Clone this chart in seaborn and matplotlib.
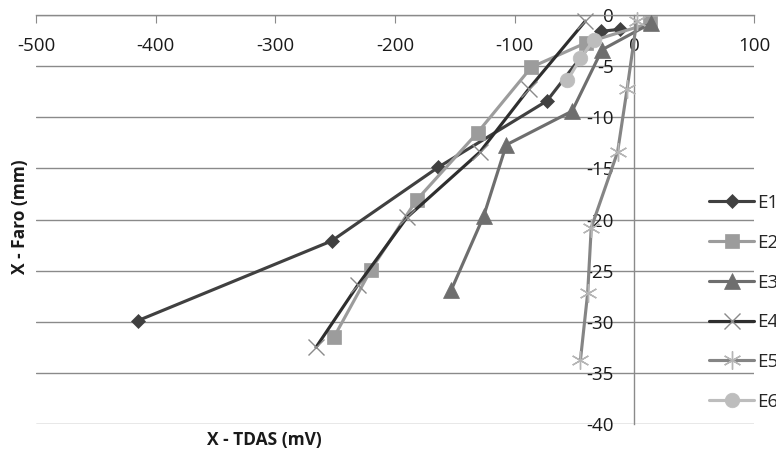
import matplotlib
matplotlib.use("Agg")
import matplotlib.pyplot as plt
import seaborn as sns

# ---- data ----
series_names = ["E1", "E2", "E3", "E4", "E5", "E6"]
E1_x = [-415, -253, -164, -73, -28, -12]
E1_y = [-29.9, -22.1, -14.9, -8.4, -1.6, -1.4]
E2_x = [-251, -220, -182, -131, -86, -40, 13]
E2_y = [-31.5, -24.9, -18.1, -11.5, -5.1, -2.7, -0.8]
E3_x = [-153, -126, -107, -52, -27, 14]
E3_y = [-26.9, -19.7, -12.7, -9.4, -3.4, -0.8]
E4_x = [-266, -231, -190, -129, -88, -41]
E4_y = [-32.5, -26.4, -19.8, -13.4, -7.2, -0.6]
E5_x = [-45, -39, -36, -14, -6, 2]
E5_y = [-33.7, -27.2, -20.8, -13.4, -7.2, -0.6]
E6_x = [-56, -45, -34]
E6_y = [-6.4, -4.25, -2.45]

x_ticks = [-500, -400, -300, -200, -100, 0, 100]
y_ticks = [0, -5, -10, -15, -20, -25, -30, -35, -40]
x_title = "X - TDAS (mV)"
y_title = "X - Faro (mm)"

sns.set_theme(style="white")
plt.rcParams["font.family"] = ["Open Sans", "DejaVu Sans"]

W, H = 776, 455
fig = plt.figure(figsize=(W / 100, H / 100), dpi=100)
ax = fig.add_axes([36 / W, 1 - 424 / H, (754 - 36) / W, (424 - 15) / H])

styles = {
    "E1": dict(color="#404040", marker="D", ms=7.5, mfc="#404040", mec="#404040", mew=0.5),
    "E2": dict(color="#9c9c9c", marker="s", ms=10.5, mfc="#9c9c9c", mec="#9c9c9c", mew=0.5),
    "E3": dict(color="#6e6e6e", marker="^", ms=11, mfc="#6e6e6e", mec="#6e6e6e", mew=0.5),
    "E4": dict(color="#2e2e2e", marker="x", ms=11, mfc="#8a8a8a", mec="#8a8a8a", mew=1.0),
    "E5": dict(color="#858585", marker=(6, 2, 0), ms=13, mfc="#b5b5b5", mec="#b5b5b5", mew=1.0),
    "E6": dict(color="#bdbdbd", marker="o", ms=10.5, mfc="#bdbdbd", mec="#bdbdbd", mew=0.5),
}
data = {
    "E1": (E1_x, E1_y), "E2": (E2_x, E2_y), "E3": (E3_x, E3_y),
    "E4": (E4_x, E4_y), "E5": (E5_x, E5_y), "E6": (E6_x, E6_y),
}

for name in series_names:
    xs, ys = data[name]
    st = styles[name]
    sns.lineplot(x=xs, y=ys, sort=False, estimator=None, ax=ax, label=name,
                 color=st["color"], lw=2.25, marker=st["marker"], markersize=st["ms"],
                 markerfacecolor=st["mfc"], markeredgecolor=st["mec"],
                 markeredgewidth=st["mew"], clip_on=False, zorder=3)

ax.set_xlim(-500, 100)
ax.set_ylim(-40, 0)
ax.set_xticks(x_ticks)
ax.set_yticks(y_ticks)
ax.set_xticklabels([str(v) for v in x_ticks])
ax.set_yticklabels([str(v) for v in y_ticks])

grid_c = "#8a8a8a"
for s in ["top", "right"]:
    ax.spines[s].set_visible(False)
ax.spines["bottom"].set_position(("data", 0))
ax.spines["left"].set_position(("data", 0))
ax.spines["bottom"].set_color(grid_c)
ax.spines["left"].set_color(grid_c)
ax.spines["bottom"].set_linewidth(1.0)
ax.spines["left"].set_linewidth(1.0)
ax.spines["bottom"].set_zorder(1)
ax.spines["left"].set_zorder(1)

ax.yaxis.grid(True, color=grid_c, lw=1.0)
ax.xaxis.grid(False)
ax.set_axisbelow(True)

ax.tick_params(axis="x", bottom=True, direction="out", length=5.5, width=0.8,
               color=grid_c, pad=10.5, labelsize=13.5, labelcolor="#1a1a1a")
ax.tick_params(axis="y", left=True, length=0, pad=15, labelsize=13.5, labelcolor="#1a1a1a")
ax.set_xlabel("")
ax.set_ylabel("")

fig.text(264 / W, 1 - 440 / H, x_title, ha="center", va="center",
         fontsize=12.5, fontweight="bold", color="#1a1a1a")
fig.text(20 / W, 1 - 217 / H, y_title, ha="center", va="center", rotation=90,
         fontsize=12.5, fontweight="bold", color="#1a1a1a")

handles, labels = ax.get_legend_handles_labels()
ax.legend(handles, labels, loc="upper left", bbox_to_anchor=(709 / W, 1 - 194 / H),
          bbox_transform=fig.transFigure, frameon=False, borderpad=0, borderaxespad=0,
          handlelength=2.4, handletextpad=0.15, labelspacing=1.16, fontsize=13.5)

fig.savefig("out.png", dpi=100)
